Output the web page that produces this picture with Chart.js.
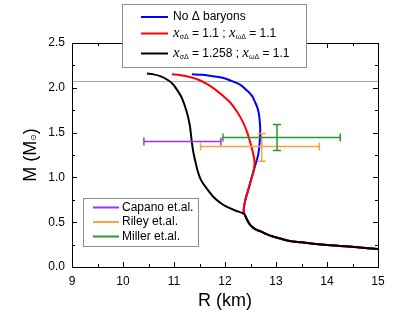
<!DOCTYPE html>
<html>
<head>
<meta charset="utf-8">
<script src="https://cdn.jsdelivr.net/npm/chart.js@4/dist/chart.umd.min.js"></script>
<style>
body { margin: 0; background: #fff; }
#wrap { width: 407px; height: 315px; }
</style>
</head>
<body>
<div id="wrap"><canvas id="massRadius" width="407" height="315"></canvas></div>
<script>
// mass-radius curves (R in km, M in solar masses)
const blueR = [11.35, 11.55, 11.76, 11.97, 12.16, 12.31, 12.43, 12.53, 12.59, 12.64, 12.67, 12.69, 12.68, 12.65, 12.61];
const blueM = [2.15, 2.145, 2.13, 2.11, 2.07, 2.03, 1.97, 1.91, 1.84, 1.77, 1.69, 1.54, 1.39, 1.25, 1.17];
const redR = [10.96, 11.13, 11.31, 11.48, 11.65, 11.81, 11.96, 12.11, 12.24, 12.35, 12.43, 12.5, 12.55, 12.58];
const redM = [2.15, 2.14, 2.12, 2.09, 2.04, 1.98, 1.91, 1.83, 1.73, 1.62, 1.51, 1.38, 1.27, 1.17];
const lowR = [12.56, 12.51, 12.45, 12.4, 12.37, 12.37];
const lowM = [1.07, 0.97, 0.85, 0.75, 0.66, 0.61];
const blackR = [10.47, 10.6, 10.73, 10.87, 10.98, 11.08, 11.16, 11.25, 11.31, 11.35, 11.38, 11.41, 11.47, 11.53, 11.61, 11.76, 11.9, 12.04, 12.2, 12.35];
const blackM = [2.16, 2.15, 2.13, 2.09, 2.04, 1.96, 1.88, 1.73, 1.58, 1.39, 1.28, 1.2, 1.06, 0.97, 0.9, 0.79, 0.72, 0.67, 0.63, 0.6];
const tailR = [12.39, 12.43, 12.48, 12.53, 12.6, 12.69, 12.8, 12.94, 13.1, 13.27, 13.5, 13.73, 14.0, 14.25, 14.6, 15.0];
const tailM = [0.58, 0.53, 0.48, 0.45, 0.42, 0.4, 0.37, 0.34, 0.315, 0.29, 0.275, 0.26, 0.245, 0.235, 0.22, 0.2];

// observational constraints
const obsNames = ["Capano et.al.", "Riley et.al.", "Miller et.al."];
const obsColors = ["#9b30ff", "#ffa040", "#2f962f"];
const obsR = [11.0, 12.72, 13.02];
const obsRLow = [10.41, 11.52, 11.96];
const obsRHigh = [11.92, 13.85, 14.26];
const obsM = [1.40, 1.345, 1.445];
const obsMLow = [null, 1.18, 1.30];
const obsMHigh = [null, 1.49, 1.59];

const maxMassLine = 2.07;
const xTicks = [9, 10, 11, 12, 13, 14, 15];
const yTicks = [0, 0.5, 1.0, 1.5, 2.0, 2.5];

function toPoints(rs, ms) {
    return rs.map((r, i) => ({ x: r, y: ms[i] }));
}

const bluePts = toPoints(blueR.concat(lowR, tailR), blueM.concat(lowM, tailM));
const redPts = toPoints(redR.concat(lowR, tailR), redM.concat(lowM, tailM));
const blackPts = toPoints(blackR.concat(tailR), blackM.concat(tailM));

const SANS = '"Liberation Sans", Arial, sans-serif';
const SERIF = '"Liberation Serif", "Times New Roman", serif';

// draws a row of text pieces, each with its own font and vertical shift
function richText(ctx, parts, x, y) {
    ctx.textBaseline = "middle";
    ctx.textAlign = "left";
    parts.forEach(p => {
        ctx.font = p.font;
        ctx.fillText(p.t, x, y + (p.dy || 0));
        x += ctx.measureText(p.t).width;
    });
}

function richWidth(ctx, parts) {
    return parts.reduce((w, p) => { ctx.font = p.font; return w + ctx.measureText(p.t).width; }, 0);
}

const chiPart = { t: "x", font: "italic 15px " + SERIF };
function subPart(t) { return { t: t, font: "7px " + SANS, dy: 4 }; }
function plain(t) { return { t: t, font: "12px " + SANS }; }

const legendRows = [
    { color: "#0000ff", parts: [plain("No \u0394 baryons")] },
    { color: "#ff0000", parts: [chiPart, subPart("\u03c3\u0394"), plain(" = 1.1 ; "), chiPart, subPart("\u03c9\u0394"), plain(" = 1.1")] },
    { color: "#000000", parts: [chiPart, subPart("\u03c3\u0394"), plain(" = 1.258 ; "), chiPart, subPart("\u03c9\u0394"), plain(" = 1.1")] }
];

const decorPlugin = {
    id: "decor",
    beforeDatasetsDraw(chart) {
        const { ctx, chartArea: a, scales: { y } } = chart;
        const py = y.getPixelForValue(maxMassLine);
        ctx.save();
        ctx.strokeStyle = "#a8a8a8";
        ctx.lineWidth = 1;
        ctx.beginPath();
        ctx.moveTo(a.left, py);
        ctx.lineTo(a.right, py);
        ctx.stroke();
        ctx.restore();
    },
    afterDatasetsDraw(chart) {
        const { ctx, scales: { x, y } } = chart;
        ctx.save();
        ctx.lineWidth = 1.5;
        obsNames.forEach((name, i) => {
            ctx.strokeStyle = obsColors[i];
            const pm = y.getPixelForValue(obsM[i]);
            const x0 = x.getPixelForValue(obsRLow[i]);
            const x1 = x.getPixelForValue(obsRHigh[i]);
            ctx.beginPath();
            ctx.moveTo(x0, pm); ctx.lineTo(x1, pm);
            ctx.moveTo(x0, pm - 4); ctx.lineTo(x0, pm + 4);
            ctx.moveTo(x1, pm - 4); ctx.lineTo(x1, pm + 4);
            if (obsMLow[i] !== null) {
                const pr = x.getPixelForValue(obsR[i]);
                const y0 = y.getPixelForValue(obsMLow[i]);
                const y1 = y.getPixelForValue(obsMHigh[i]);
                ctx.moveTo(pr, y0); ctx.lineTo(pr, y1);
                ctx.moveTo(pr - 4, y0); ctx.lineTo(pr + 4, y0);
                ctx.moveTo(pr - 4, y1); ctx.lineTo(pr + 4, y1);
            }
            ctx.stroke();
        });
        ctx.restore();
    },
    afterDraw(chart) {
        const { ctx, chartArea: a, scales: { x, y } } = chart;
        ctx.save();

        // frame with inward ticks on all four sides
        ctx.strokeStyle = "#000";
        ctx.lineWidth = 1;
        ctx.strokeRect(Math.round(a.left) + 0.5, Math.round(a.top) + 0.5, Math.round(a.right - a.left), Math.round(a.bottom - a.top));
        ctx.beginPath();
        for (let v = 9; v <= 15.001; v += 0.5) {
            const px = Math.round(x.getPixelForValue(v)) + 0.5;
            const len = Math.abs(v - Math.round(v)) < 0.01 ? 5 : 3;
            ctx.moveTo(px, a.bottom); ctx.lineTo(px, a.bottom - len);
            ctx.moveTo(px, a.top); ctx.lineTo(px, a.top + len);
        }
        for (let v = 0; v <= 2.501; v += 0.25) {
            const py = Math.round(y.getPixelForValue(v)) + 0.5;
            const len = Math.abs(v * 2 - Math.round(v * 2)) < 0.01 ? 5 : 3;
            ctx.moveTo(a.left, py); ctx.lineTo(a.left + len, py);
            ctx.moveTo(a.right, py); ctx.lineTo(a.right - len, py);
        }
        ctx.stroke();

        // axis titles
        ctx.fillStyle = "#000";
        ctx.font = "18px " + SANS;
        ctx.textAlign = "center";
        ctx.textBaseline = "alphabetic";
        ctx.fillText("R (km)", (a.left + a.right) / 2, 306);

        const yParts = [
            { t: "M (M", font: "18px " + SANS },
            { t: "\u2299", font: "8px " + "DejaVu Sans", dy: 3 },
            { t: ")", font: "18px " + SANS }
        ];
        ctx.save();
        ctx.translate(31, 155);
        ctx.rotate(-Math.PI / 2);
        const yw = richWidth(ctx, yParts);
        let cx = -yw / 2;
        ctx.textAlign = "left";
        ctx.textBaseline = "middle";
        yParts.forEach(p => {
            ctx.font = p.font;
            ctx.fillText(p.t, cx, (p.dy || 0));
            cx += ctx.measureText(p.t).width;
        });
        ctx.restore();

        // top legend box
        ctx.fillStyle = "#fff";
        ctx.fillRect(122, 4, 184, 63);
        ctx.strokeStyle = "#8c8c8c";
        ctx.strokeRect(122.5, 4.5, 184, 63);
        const rowY = [17, 33.5, 53.5];
        legendRows.forEach((row, i) => {
            ctx.strokeStyle = row.color;
            ctx.lineWidth = 2;
            ctx.beginPath();
            ctx.moveTo(141, rowY[i]); ctx.lineTo(168, rowY[i]);
            ctx.stroke();
            ctx.fillStyle = "#000";
            richText(ctx, row.parts, 173, rowY[i]);
        });

        // observations legend box
        ctx.lineWidth = 1;
        ctx.fillStyle = "#fff";
        ctx.fillRect(83, 198, 115, 48);
        ctx.strokeStyle = "#8c8c8c";
        ctx.strokeRect(83.5, 198.5, 115, 48);
        const obsRowY = [207.5, 222, 236.5];
        obsNames.forEach((name, i) => {
            ctx.strokeStyle = obsColors[i];
            ctx.lineWidth = 2;
            ctx.beginPath();
            ctx.moveTo(93, obsRowY[i]); ctx.lineTo(119, obsRowY[i]);
            ctx.stroke();
            ctx.fillStyle = "#000";
            ctx.font = "12px " + SANS;
            ctx.textAlign = "left";
            ctx.textBaseline = "middle";
            ctx.fillText(name, 122, obsRowY[i]);
        });

        ctx.restore();
    }
};

function lineSet(label, pts, color) {
    return {
        label: label,
        data: pts,
        showLine: true,
        borderColor: color,
        backgroundColor: color,
        borderWidth: 2,
        pointRadius: 0,
        tension: 0.3,
        fill: false
    };
}

new Chart(document.getElementById("massRadius"), {
    type: "scatter",
    data: {
        datasets: [
            lineSet("No \u0394 baryons", bluePts, "#0000ff"),
            lineSet("x\u03c3\u0394 = 1.1 ; x\u03c9\u0394 = 1.1", redPts, "#ff0000"),
            lineSet("x\u03c3\u0394 = 1.258 ; x\u03c9\u0394 = 1.1", blackPts, "#000000")
        ].reverse()
    },
    options: {
        responsive: false,
        animation: false,
        layout: { padding: { top: 43, right: 29, left: 0, bottom: 0 } },
        plugins: {
            legend: { display: false },
            tooltip: { enabled: false }
        },
        scales: {
            x: {
                type: "linear",
                min: 9,
                max: 15,
                afterBuildTicks: scale => { scale.ticks = xTicks.map(v => ({ value: v })); },
                afterFit: scale => { scale.height = 48; },
                grid: { display: false, drawTicks: false },
                border: { display: false },
                ticks: {
                    padding: 7,
                    color: "#000",
                    font: { family: SANS, size: 12 },
                    maxRotation: 0
                }
            },
            y: {
                type: "linear",
                min: 0,
                max: 2.5,
                afterBuildTicks: scale => { scale.ticks = yTicks.map(v => ({ value: v })); },
                afterFit: scale => { scale.width = 72; },
                grid: { display: false, drawTicks: false },
                border: { display: false },
                ticks: {
                    padding: 7,
                    color: "#000",
                    font: { family: SANS, size: 12 },
                    callback: v => v.toFixed(1)
                }
            }
        }
    },
    plugins: [decorPlugin]
});
</script>
</body>
</html>
